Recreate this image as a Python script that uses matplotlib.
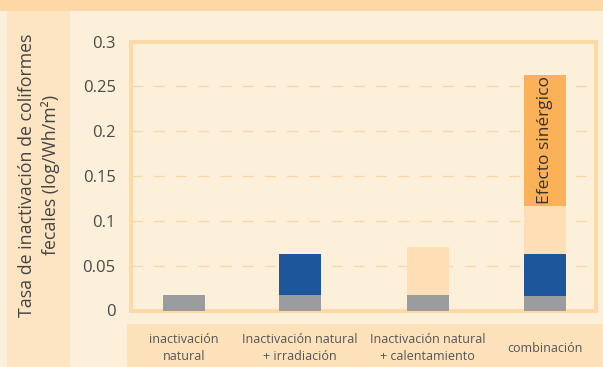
import matplotlib
matplotlib.use("Agg")
import matplotlib.pyplot as plt
from matplotlib.patches import Rectangle

# Data
categories = ["inactivación\nnatural", "Inactivación natural\n+ irradiación",
              "Inactivación natural\n+ calentamiento", "combinación"]
natural = [0.0175, 0.0175, 0.0175, 0.0165]       # gray
irradiacion = [0, 0.045, 0, 0.046]               # blue
calentamiento = [0, 0, 0.053, 0.054]             # light peach
sinergico = [0, 0, 0, 0.1465]                    # orange
yticks = [0, 0.05, 0.1, 0.15, 0.2, 0.25, 0.3]
ytick_labels = ["0", "0.05", "0.1", "0.15", "0.2", "0.25", "0.3"]

# layout (bar centres are not evenly spaced in the original)
xpos = [0, 1, 2.1, 3.11]

plt.rcParams['font.family'] = ['Open Sans', 'DejaVu Sans']

W, H = 603, 367
fig = plt.figure(figsize=(W / 100, H / 100), dpi=100)
fig.patch.set_facecolor('#FDF0DB')


def px_rect(x0, y0, x1, y1, color):
    # rectangle in pixel coords (origin top-left)
    fig.add_artist(Rectangle((x0 / W, 1 - y1 / H), (x1 - x0) / W, (y1 - y0) / H,
                             transform=fig.transFigure, facecolor=color,
                             edgecolor='none', zorder=0))


px_rect(0, 0, W, 11, '#FDD8A6')      # top band
px_rect(7, 11, 70, H, '#FDE5C4')     # left panel
px_rect(127, 324, W, H, '#FDE1BB')   # category band

ax = fig.add_axes([131 / W, (H - 310.5) / H, (596 - 131) / W, (310.5 - 41.5) / H])
ax.set_facecolor('none')

width = 0.362
ax.bar(xpos, natural, width, color='#9B9CA0', zorder=3)
bottom = natural[:]
ax.bar(xpos, irradiacion, width, bottom=bottom, color='#1E569C', zorder=3)
bottom = [b + v for b, v in zip(bottom, irradiacion)]
ax.bar(xpos, calentamiento, width, bottom=bottom, color='#FFDDB5', zorder=3)
bottom = [b + v for b, v in zip(bottom, calentamiento)]
ax.bar(xpos, sinergico, width, bottom=bottom, color='#FBB157', zorder=3)

ax.text(xpos[3], bottom[3] + sinergico[3] / 2, "Efecto sinérgico", rotation=90,
        ha='center', va='center', fontsize=12.5, color='#333333', zorder=4)

ax.set_xlim(-0.457, 3.552)
ax.set_ylim(0, 0.3)
ax.set_yticks(yticks)
ax.set_yticklabels(ytick_labels, fontsize=12, color='#4a4a4a')
ax.tick_params(axis='y', length=0, pad=11)
ax.set_xticks([])

for y in yticks[1:-1]:
    ax.axhline(y, color='#FCD7A4', lw=1, ls=(0, (8, 8)), zorder=1)

for s in ax.spines.values():
    s.set_color('#FDD9A8')
    s.set_linewidth(2.9)

for x, lab in zip(xpos, categories):
    ax.text(x, -0.141, lab, transform=ax.get_xaxis_transform(), ha='center',
            va='center', fontsize=9, color='#555555', linespacing=1.4)

fig.text(39 / W, 1 - 175 / H, "Tasa de inactivación de coliformes\nfecales (log/Wh/m²)",
         rotation=90, ha='center', va='center', multialignment='center',
         fontsize=12.8, color='#444444', linespacing=1.3)

fig.savefig("out.png", dpi=100, facecolor=fig.get_facecolor())
